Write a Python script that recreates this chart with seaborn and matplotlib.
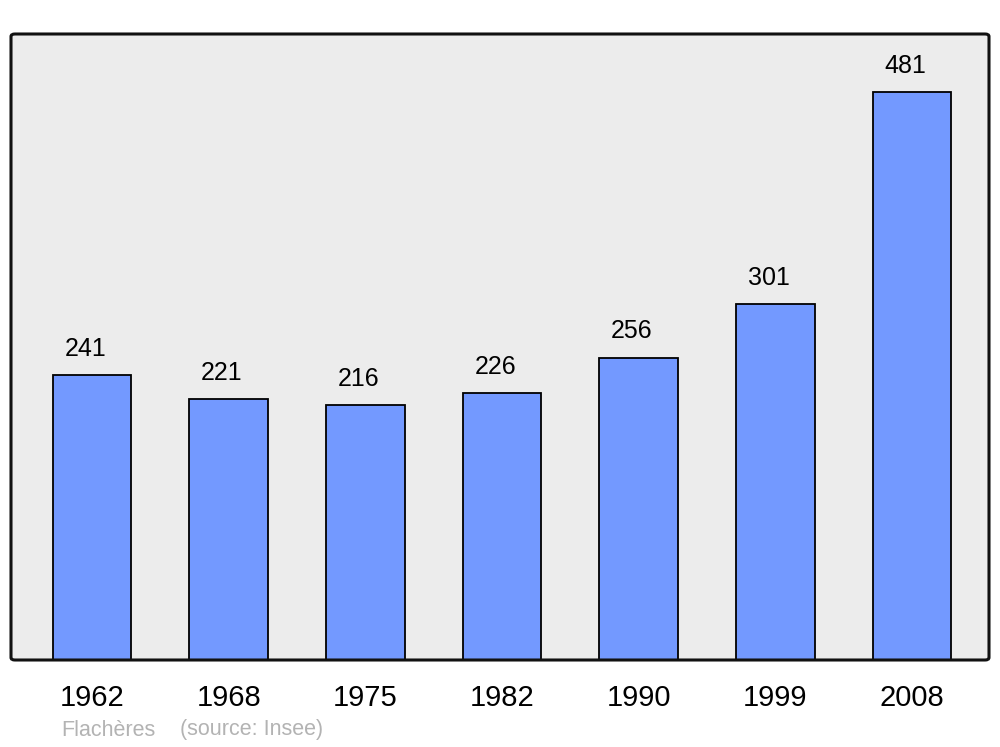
import matplotlib
matplotlib.use("Agg")
import matplotlib.pyplot as plt
import seaborn as sns
from matplotlib.patches import FancyBboxPatch

# Données
annees = ["1962", "1968", "1975", "1982", "1990", "1999", "2008"]
population = [241, 221, 216, 226, 256, 301, 481]
commune = "Flachères"
source = "(source: Insee)"

sns.set_style("white")
plt.rcParams['font.family'] = ['Liberation Sans', 'DejaVu Sans']

fig = plt.figure(figsize=(10, 7.47), dpi=100)
ax = fig.add_axes([0.011, 1 - 660 / 747, 0.978, (660 - 34) / 747])
ax.set_facecolor("#ececec")

sns.barplot(x=annees, y=population, color="#7399ff", saturation=1,
            edgecolor="black", linewidth=1.3, width=0.575, ax=ax)

# Étiquettes au-dessus des barres
for i, v in enumerate(population):
    ax.text(i - 0.05, v + 12, str(v), ha="center", va="bottom",
            fontsize=18, color="black")

ax.set_xlim(-0.593, 6.563)
ax.set_ylim(0, 530)
ax.set_yticks([])
ax.set_xlabel("")
ax.set_ylabel("")
ax.tick_params(axis="x", length=0, pad=17, labelsize=21, labelcolor="black")
for lab in ax.get_xticklabels():
    lab.set_x(lab.get_position()[0])

# Cadre arrondi
for s in ax.spines.values():
    s.set_visible(False)
cadre = FancyBboxPatch((0, 0), 1, 1, boxstyle="round,pad=0,rounding_size=0.004",
                       transform=ax.transAxes, fill=False, edgecolor="#111111",
                       linewidth=2.2, clip_on=False, zorder=5)
ax.add_patch(cadre)

fig.text(61 / 1000, 1 - 730 / 747, commune, color="#b3b3b3", fontsize=15.5, va="center")
fig.text(180 / 1000, 1 - 730 / 747, source, color="#b3b3b3", fontsize=15.5, va="center")

fig.savefig("out.png", dpi=100)
